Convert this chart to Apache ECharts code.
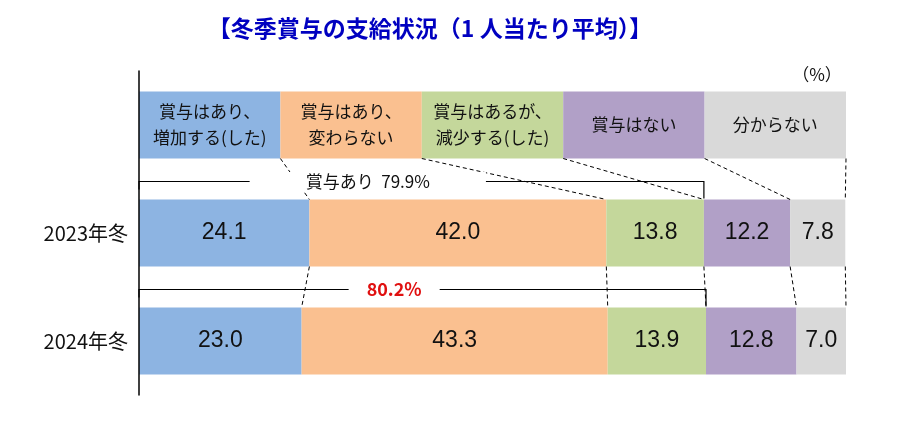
<!DOCTYPE html>
<html>
<head>
    <meta charset="utf-8">
    <title>冬季賞与の支給状況</title>
    <script src="https://cdn.jsdelivr.net/npm/echarts@6/dist/echarts.min.js"></script>
    <style>
        body { margin: 0; background: #ffffff; }
        #main { width: 900px; height: 436px; }
    </style>
</head>
<body>
<div id="main"></div>
<script>
    // データ
    const years = ['2023年冬', '2024年冬'];
    const headers = ['賞与はあり、\n増加する(した)', '賞与はあり、\n変わらない', '賞与はあるが、\n減少する(した)', '賞与はない', '分からない'];
    const colors = ['#8db4e2', '#fac090', '#c4d79b', '#b1a0c7', '#d9d9d9'];
    const y2023 = [24.1, 42.0, 13.8, 12.2, 7.8];
    const y2024 = [23.0, 43.3, 13.9, 12.8, 7.0];
    const headerShare = [20, 20, 20, 20, 20]; // 見出し欄は等幅

    const font = 'Noto Sans CJK JP';
    const rows = [headerShare, y2023, y2024];
    const barW = 67;

    const chart = echarts.init(document.getElementById('main'));

    let series = [];
    for (let i = 0; i < headers.length; i++) {
        series.push({
            name: headers[i],
            type: 'bar',
            stack: 'all',
            barWidth: barW,
            itemStyle: { color: colors[i] },
            label: {
                show: true,
                position: 'inside',
                formatter: function (p) {
                    if (p.dataIndex === 0) return '{h|' + headers[i].replace('\n', '}\n{h|') + '}';
                    return '{v|' + p.value.toFixed(1) + '}';
                },
                rich: {
                    h: { fontFamily: font, fontSize: 17, color: '#111', lineHeight: 26 },
                    v: { fontFamily: 'Liberation Sans Narrow, Liberation Sans', fontSize: 23, color: '#111' }
                }
            },
            data: rows.map(r => r[i])
        });
    }

    const option = {
        animation: false,
        title: {
            text: '【冬季賞与の支給状況（1 人当たり平均）】',
            left: 425, top: 12, textAlign: 'center',
            textStyle: { fontFamily: font, fontSize: 23, fontWeight: 'bold', color: '#0000c0' }
        },
        grid: { left: 139, right: 54, top: 71, bottom: 41 },
        xAxis: { type: 'value', min: 0, max: 100, show: false },
        yAxis: {
            type: 'category',
            inverse: true,
            data: [''].concat(years),
            z: 10,
            axisLine: { lineStyle: { color: '#000', width: 1.5 } },
            axisTick: { show: false },
            axisLabel: { fontFamily: font, fontSize: 20, color: '#111', margin: 11 }
        },
        series: series
    };
    chart.setOption(option);

    // 区切り線・括弧
    function px(x, row) {
        return chart.convertToPixel({ gridIndex: 0 }, [x, row]);
    }
    function cum(arr) {
        let s = 0, out = [];
        arr.forEach(v => { s += v; out.push(s); });
        return out;
    }

    let g = [];
    const dash = { stroke: '#000', lineWidth: 1, lineDash: [4, 3] };
    for (let r = 0; r < rows.length - 1; r++) {
        const a = cum(rows[r]), b = cum(rows[r + 1]);
        for (let k = 0; k < a.length; k++) {
            const p1 = px(a[k], r), p2 = px(b[k], r + 1);
            g.push({
                type: 'line', z: 5,
                shape: { x1: p1[0], y1: p1[1] + barW / 2, x2: p2[0], y2: p2[1] - barW / 2 },
                style: dash
            });
        }
    }

    const bracketCfg = [
        { pos: 0.405, pad: [1, 56], fmt: v => '賞与あり  ' + v + '%', color: '#111', weight: 'normal', size: 17 },
        { pos: 0.45, pad: [1, 18], fmt: v => v + '%', color: '#e01010', weight: 'bold', size: 18 }
    ];
    for (let r = 1; r < rows.length; r++) {
        const c = cum(rows[r]);
        const p0 = px(0, r), p3 = px(c[2], r);
        const top = p0[1] - barW / 2;
        const by = top - 18;
        const cfg = bracketCfg[r - 1];
        g.push({ type: 'polyline', z: 6,
            shape: { points: [[p0[0], by + 8], [p0[0], by], [p3[0], by], [p3[0], top - 1]] },
            style: { stroke: '#000', lineWidth: 1.2, fill: null } });
        g.push({ type: 'text', z: 7,
            x: p0[0] + (p3[0] - p0[0]) * cfg.pos, y: by,
            style: {
                text: cfg.fmt(c[2].toFixed(1)), align: 'center', verticalAlign: 'middle',
                fontFamily: font, fontSize: cfg.size, fontWeight: cfg.weight, fill: cfg.color,
                backgroundColor: '#fff', padding: cfg.pad
            } });
    }

    g.push({ type: 'text', z: 7, x: 817, y: 75,
        style: { text: '（%）', align: 'center', verticalAlign: 'middle', fontFamily: font, fontSize: 17, fill: '#111' } });

    chart.setOption({ graphic: g });
</script>
</body>
</html>
